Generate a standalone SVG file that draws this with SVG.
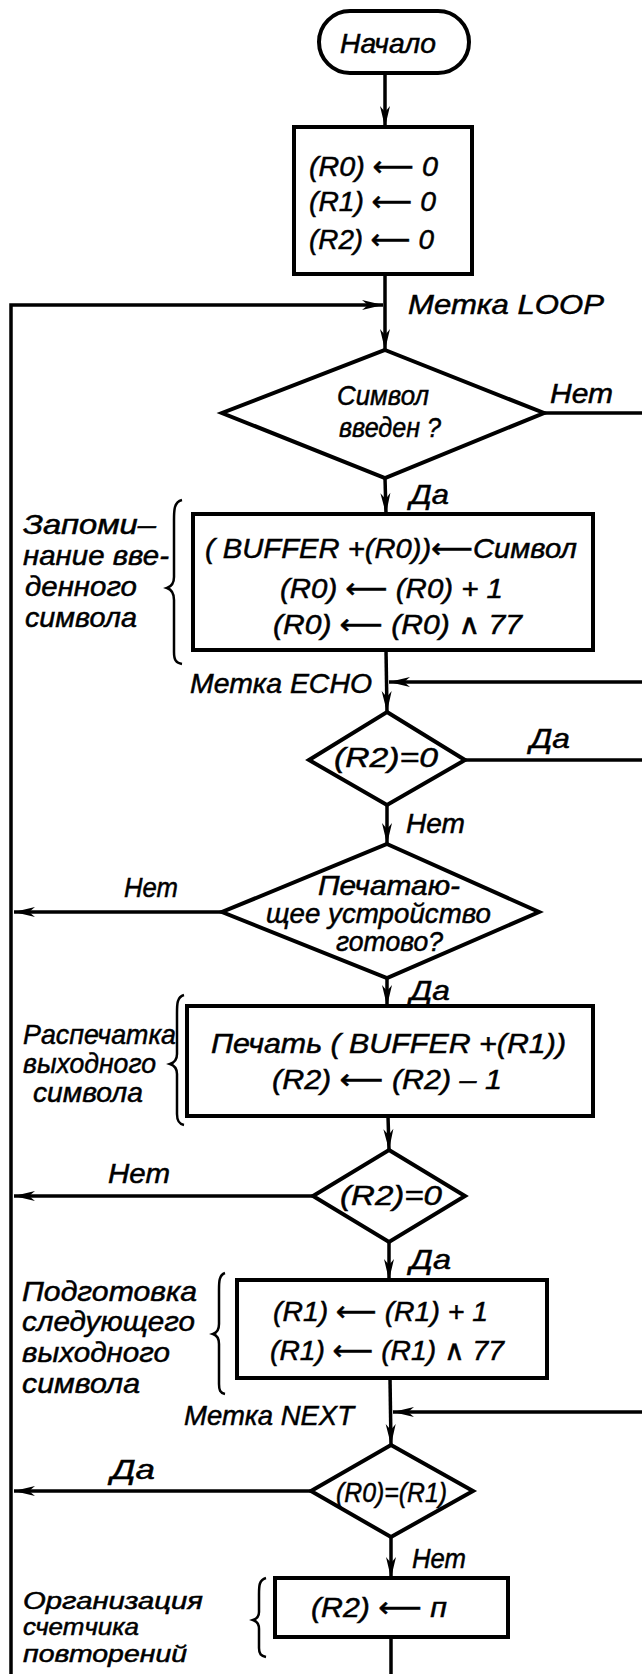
<svg xmlns="http://www.w3.org/2000/svg" width="642" height="1674" viewBox="0 0 642 1674">
<style>
.t{font-family:"Liberation Sans","DejaVu Sans",sans-serif;font-style:italic;font-size:28px;fill:#000;stroke:#000;stroke-width:0.5}
.sm{font-size:23px}
.s{fill:#fff;stroke:#000;stroke-width:4;stroke-linejoin:miter}
.c{fill:none;stroke:#000;stroke-width:3.5}
.b{fill:none;stroke:#000;stroke-width:2.5}
</style>
<defs>
<marker id="ar" markerUnits="userSpaceOnUse" markerWidth="24" markerHeight="14" refX="0" refY="0" viewBox="-22 -7 24 14" orient="auto">
<path d="M0,0 L-21,-5 L-15,0 L-21,5 Z" fill="#000"/>
</marker>
</defs>
<rect width="642" height="1674" fill="#fff"/>
<g id="connectors">
<line class="c" x1="385" y1="73" x2="385" y2="127" marker-end="url(#ar)"/>
<line class="c" x1="385" y1="274" x2="385" y2="350" marker-end="url(#ar)"/>
<polyline class="c" points="11,1674 11,305 383,305" marker-end="url(#ar)"/>
<line class="c" x1="544" y1="413" x2="642" y2="413"/>
<line class="c" x1="385" y1="478" x2="386" y2="514" marker-end="url(#ar)"/>
<line class="c" x1="386" y1="650" x2="387" y2="712" marker-end="url(#ar)"/>
<line class="c" x1="642" y1="682" x2="389" y2="682" marker-end="url(#ar)"/>
<line class="c" x1="465" y1="760" x2="642" y2="760"/>
<line class="c" x1="387" y1="805" x2="387" y2="844" marker-end="url(#ar)"/>
<line class="c" x1="222" y1="912" x2="14" y2="912" marker-end="url(#ar)"/>
<line class="c" x1="387" y1="978" x2="387" y2="1006" marker-end="url(#ar)"/>
<line class="c" x1="388" y1="1116" x2="389" y2="1150" marker-end="url(#ar)"/>
<line class="c" x1="313" y1="1196" x2="14" y2="1196" marker-end="url(#ar)"/>
<line class="c" x1="389" y1="1242" x2="389" y2="1280" marker-end="url(#ar)"/>
<line class="c" x1="390" y1="1378" x2="391" y2="1445" marker-end="url(#ar)"/>
<line class="c" x1="642" y1="1412" x2="393" y2="1412" marker-end="url(#ar)"/>
<line class="c" x1="311" y1="1491" x2="14" y2="1491" marker-end="url(#ar)"/>
<line class="c" x1="391" y1="1537" x2="391" y2="1578" marker-end="url(#ar)"/>
<line class="c" x1="391" y1="1637" x2="391" y2="1674"/>
<text class="t" x="408" y="314" textLength="196" lengthAdjust="spacingAndGlyphs">Метка LOOP</text>
<text class="t" x="550" y="403" textLength="63" lengthAdjust="spacingAndGlyphs">Нет</text>
<text class="t" x="410" y="504" textLength="39" lengthAdjust="spacingAndGlyphs">Да</text>
<text class="t" x="190" y="693" textLength="182" lengthAdjust="spacingAndGlyphs">Метка ECHO</text>
<text class="t" x="530" y="748" textLength="40" lengthAdjust="spacingAndGlyphs">Да</text>
<text class="t" x="406" y="833" textLength="59" lengthAdjust="spacingAndGlyphs">Нет</text>
<text class="t" x="124" y="897" textLength="54" lengthAdjust="spacingAndGlyphs">Нет</text>
<text class="t" x="410" y="1000" textLength="40" lengthAdjust="spacingAndGlyphs">Да</text>
<text class="t" x="108" y="1183" textLength="62" lengthAdjust="spacingAndGlyphs">Нет</text>
<text class="t" x="410" y="1269" textLength="41" lengthAdjust="spacingAndGlyphs">Да</text>
<text class="t" x="184" y="1425" textLength="170" lengthAdjust="spacingAndGlyphs">Метка NEXT</text>
<text class="t" x="111" y="1479" textLength="44" lengthAdjust="spacingAndGlyphs">Да</text>
<text class="t" x="412" y="1568" textLength="54" lengthAdjust="spacingAndGlyphs">Нет</text>
</g>
<g id="start">
<rect class="s" x="319" y="11" width="150" height="62" rx="31"/>
<text class="t" x="340" y="53" textLength="96" lengthAdjust="spacingAndGlyphs">Начало</text>
</g>
<g id="init">
<rect class="s" x="294" y="127" width="178" height="147"/>
<text class="t" x="309" y="176" textLength="129" lengthAdjust="spacingAndGlyphs">(R0) ⟵ 0</text>
<text class="t" x="309" y="211" textLength="127" lengthAdjust="spacingAndGlyphs">(R1) ⟵ 0</text>
<text class="t" x="309" y="249" textLength="125" lengthAdjust="spacingAndGlyphs">(R2) ⟵ 0</text>
</g>
<g id="d1">
<polygon class="s" points="385,350 544,413 385,478 222,413"/>
<text class="t" x="337" y="405" textLength="92" lengthAdjust="spacingAndGlyphs">Символ</text>
<text class="t" x="339" y="437" textLength="102" lengthAdjust="spacingAndGlyphs">введен ?</text>
</g>
<g id="store">
<rect class="s" x="193" y="514" width="400" height="136"/>
<text class="t" x="205" y="558" textLength="372" lengthAdjust="spacingAndGlyphs">( BUFFER +(R0))⟵Символ</text>
<text class="t" x="280" y="598" textLength="223" lengthAdjust="spacingAndGlyphs">(R0) ⟵ (R0) + 1</text>
<text class="t" x="273" y="634" textLength="249" lengthAdjust="spacingAndGlyphs">(R0) ⟵ (R0) ∧ 77</text>
<path class="b" d="M182,500 C174,502 174,510 174,520 L174,577 C174,584 170,587 167,588 C170,589 174,592 174,600 L174,652 C174,660 176,663 182,664"/>
<text class="t" x="23" y="534" textLength="133" lengthAdjust="spacingAndGlyphs">Запоми–</text>
<text class="t" x="23" y="565" textLength="146" lengthAdjust="spacingAndGlyphs">нание вве-</text>
<text class="t" x="25" y="596" textLength="112" lengthAdjust="spacingAndGlyphs">денного</text>
<text class="t" x="25" y="627" textLength="112" lengthAdjust="spacingAndGlyphs">символа</text>
</g>
<g id="d2">
<polygon class="s" points="387,712 465,760 387,805 309,760"/>
<text class="t" x="334" y="767" textLength="104" lengthAdjust="spacingAndGlyphs">(R2)=0</text>
</g>
<g id="d3">
<polygon class="s" points="387,844 539,912 387,978 222,912"/>
<text class="t" x="318" y="895" textLength="142" lengthAdjust="spacingAndGlyphs">Печатаю-</text>
<text class="t" x="266" y="923" textLength="225" lengthAdjust="spacingAndGlyphs">щее устройство</text>
<text class="t" x="336" y="951" textLength="107" lengthAdjust="spacingAndGlyphs">готово?</text>
</g>
<g id="print">
<rect class="s" x="187" y="1006" width="406" height="110"/>
<text class="t" x="211" y="1053" textLength="355" lengthAdjust="spacingAndGlyphs">Печать ( BUFFER +(R1))</text>
<text class="t" x="272" y="1089" textLength="230" lengthAdjust="spacingAndGlyphs">(R2) ⟵ (R2) – 1</text>
<path class="b" d="M184,995 C177,997 177,1004 177,1013 L177,1054 C177,1060 173,1063 170,1064 C173,1065 177,1068 177,1074 L177,1114 C177,1121 179,1124 184,1125"/>
<text class="t" x="23" y="1044" textLength="153" lengthAdjust="spacingAndGlyphs">Распечатка</text>
<text class="t" x="23" y="1073" textLength="133" lengthAdjust="spacingAndGlyphs">выходного</text>
<text class="t" x="33" y="1102" textLength="110" lengthAdjust="spacingAndGlyphs">символа</text>
</g>
<g id="d4">
<polygon class="s" points="389,1150 465,1196 389,1242 313,1196"/>
<text class="t" x="340" y="1205" textLength="102" lengthAdjust="spacingAndGlyphs">(R2)=0</text>
</g>
<g id="next">
<rect class="s" x="237" y="1280" width="310" height="98"/>
<text class="t" x="273" y="1321" textLength="215" lengthAdjust="spacingAndGlyphs">(R1) ⟵ (R1) + 1</text>
<text class="t" x="270" y="1360" textLength="234" lengthAdjust="spacingAndGlyphs">(R1) ⟵ (R1) ∧ 77</text>
<path class="b" d="M225,1273 C219,1275 219,1282 219,1290 L219,1324 C219,1330 216,1333 213,1334 C216,1335 219,1338 219,1344 L219,1384 C219,1390 220,1393 225,1394"/>
<text class="t" x="22" y="1301" textLength="175" lengthAdjust="spacingAndGlyphs">Подготовка</text>
<text class="t" x="22" y="1331" textLength="173" lengthAdjust="spacingAndGlyphs">следующего</text>
<text class="t" x="22" y="1362" textLength="148" lengthAdjust="spacingAndGlyphs">выходного</text>
<text class="t" x="22" y="1393" textLength="118" lengthAdjust="spacingAndGlyphs">символа</text>
</g>
<g id="d5">
<polygon class="s" points="391,1445 473,1491 391,1537 311,1491"/>
<text class="t" x="336" y="1502" textLength="111" lengthAdjust="spacingAndGlyphs">(R0)=(R1)</text>
</g>
<g id="count">
<rect class="s" x="275" y="1578" width="233" height="59"/>
<text class="t" x="311" y="1617" textLength="136" lengthAdjust="spacingAndGlyphs">(R2) ⟵ п</text>
<path class="b" d="M266,1578 C259,1580 259,1586 259,1594 L259,1612 C259,1617 256,1619 253,1620 C256,1621 259,1624 259,1629 L259,1648 C259,1654 261,1656 266,1657"/>
<text class="t sm" x="23" y="1609" textLength="180" lengthAdjust="spacingAndGlyphs">Организация</text>
<text class="t sm" x="23" y="1635" textLength="116" lengthAdjust="spacingAndGlyphs">счетчика</text>
<text class="t sm" x="23" y="1662" textLength="164" lengthAdjust="spacingAndGlyphs">повторений</text>
</g>
</svg>
